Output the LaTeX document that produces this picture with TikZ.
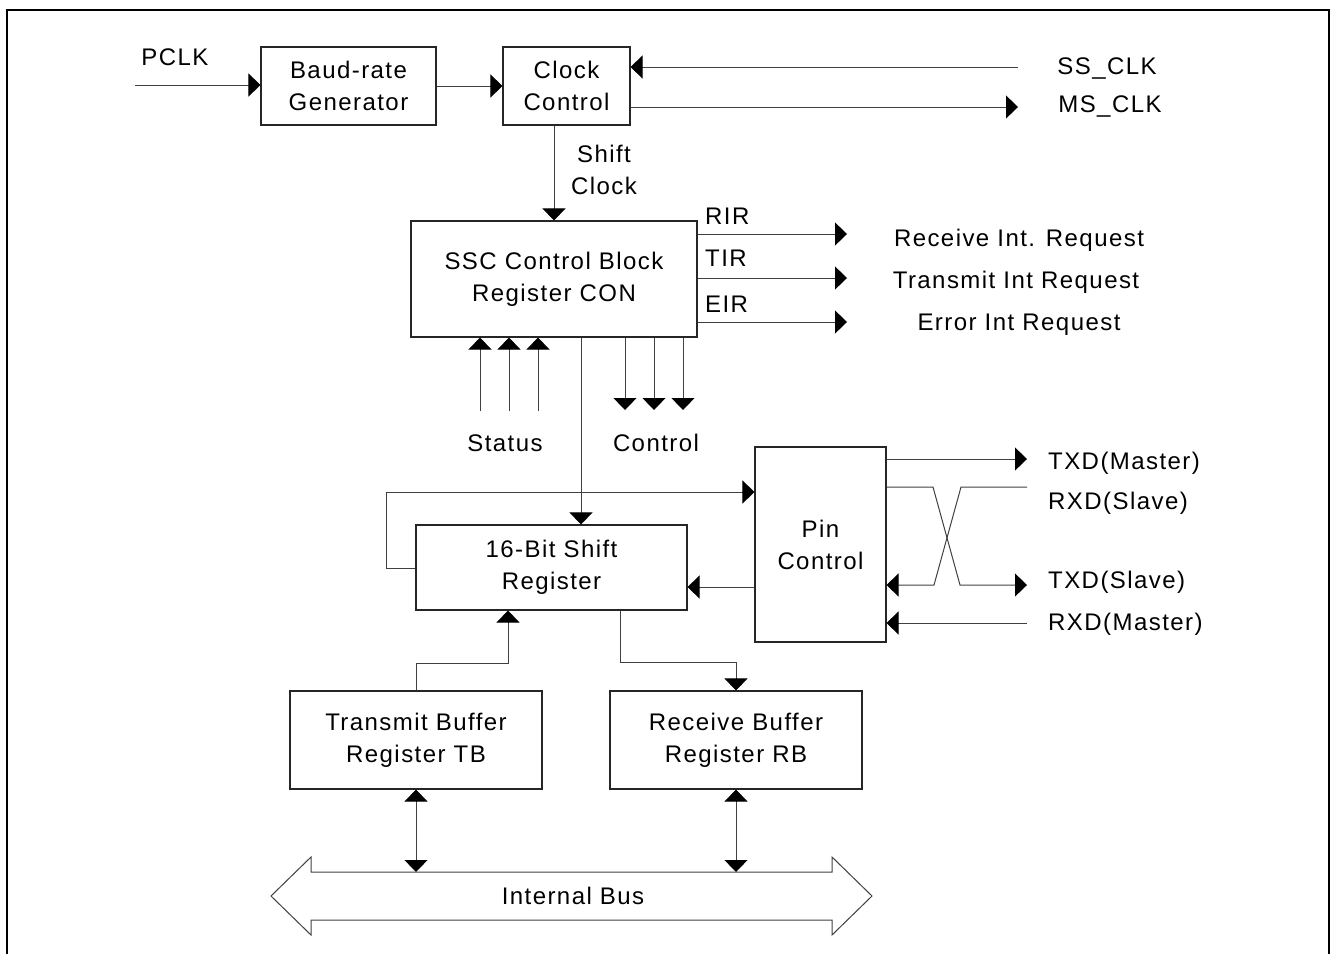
\documentclass[tikz,border=0pt]{standalone}
\usepackage{fontspec}
\setmainfont{Liberation Sans}[LetterSpace=6]
\usetikzlibrary{arrows.meta}
\begin{document}
\begin{tikzpicture}[x=1pt,y=-1pt,
  font=\fontsize{24}{32}\selectfont,
  box/.style={draw=black!85, line width=1.1pt, align=center, inner sep=0pt},
  lbl/.style={inner sep=0pt, text height=17pt, text depth=0pt},
  con/.style={line width=1pt, draw=black!75},
  tipA/.tip={Triangle[length=12pt 0 0,width=23pt 0 0,color=black,fill=black]},
  arr/.style={con, -tipA},
  arrb/.style={con, tipA-tipA}]
\useasboundingbox (0,0) rectangle (1331,954);
% frame
\draw[line width=1.5pt] (7,954) -- (7,10) -- (1329,10) -- (1329,954);
% boxes
\node[box, minimum width=175pt, minimum height=78pt] (baud) at (348.5,86) {Baud-rate\\Generator};
\node[box, minimum width=127pt, minimum height=78pt] (clk) at (566.5,86) {Clock\\Control};
\node[box, minimum width=286pt, minimum height=116pt] (ssc) at (554,279) {SSC Control Block\\Register CON};
\node[box, minimum width=271pt, minimum height=85pt] (shift) at (551.5,567.5) {16-Bit Shift\\Register};
\node[box, minimum width=131pt, minimum height=195pt] (pin) at (820.5,544.5) {Pin\\Control};
\node[box, minimum width=252pt, minimum height=98pt] (tb) at (416,740) {Transmit Buffer\\Register TB};
\node[box, minimum width=252pt, minimum height=98pt] (rb) at (736,740) {Receive Buffer\\Register RB};
% labels
\node[lbl] (pclk) at (175,57) {PCLK};
\node[lbl] (ssclk) at (1107,66) {SS\_CLK};
\node[lbl] (msclk) at (1110,104) {MS\_CLK};
\node[align=center, inner sep=0pt] (shiftclk) at (604,170) {Shift\\Clock};
\node[lbl, anchor=west] (rir) at (705,216) {RIR};
\node[lbl, anchor=west] (tir) at (705,258) {TIR};
\node[lbl, anchor=west] (eir) at (705,304) {EIR};
\node[lbl] (rxreq) at (1019,238) {Receive Int. Request};
\node[lbl] (txreq) at (1016,280) {Transmit Int Request};
\node[lbl] (erreq) at (1019,322) {Error Int Request};
\node[lbl] (status) at (505,443) {Status};
\node[lbl] (control) at (656,443) {Control};
\node[lbl, anchor=west] (txdm) at (1048,461) {TXD(Master)};
\node[lbl, anchor=west] (rxds) at (1048,501) {RXD(Slave)};
\node[lbl, anchor=west] (txds) at (1048,580) {TXD(Slave)};
\node[lbl, anchor=west] (rxdm) at (1048,622) {RXD(Master)};
\node[lbl] (bus) at (573,896) {Internal Bus};
% coordinates for free ends
\coordinate (pclkin) at (135,85);
\coordinate (ssend) at (1018,67);
\coordinate (msend) at (1018,107);
\coordinate (rirE) at (847,234);
\coordinate (tirE) at (847,278);
\coordinate (eirE) at (847,322);
\coordinate (st1) at (480,411);
\coordinate (st2) at (509,411);
\coordinate (st3) at (538,411);
\coordinate (ct1) at (625,410);
\coordinate (ct2) at (654,410);
\coordinate (ct3) at (683,410);
\coordinate (txdmE) at (1027,459);
\coordinate (rxdsE) at (1027,487);
\coordinate (txdsE) at (1027,585);
\coordinate (rxdmE) at (1027,623);
\coordinate (bustop) at (0,872);
% connectors
\draw[arr] (pclkin) -- (pclkin -| baud.west);
\draw[arr] (baud) -- (clk);
\draw[arr] (ssend) -- (ssend -| clk.east);
\draw[arr] (msend -| clk.east) -- (msend);
\draw[arr] (clk.south -| ssc.north) -- (ssc.north);
\draw[arr] (rirE -| ssc.east) -- (rirE);
\draw[arr] (tirE -| ssc.east) -- (tirE);
\draw[arr] (eirE -| ssc.east) -- (eirE);
\foreach \c in {st1,st2,st3} \draw[arr] (\c) -- (\c |- ssc.south);
\foreach \c in {ct1,ct2,ct3} \draw[arr] (\c |- ssc.south) -- (\c);
\draw[arr] (ssc.south -| 581,0) -- (shift.north -| 581,0);
\draw[arr] (shift.west |- 0,568) -- (386,568) -- (386,492) -- (pin.west |- 0,492);
\draw[arr] (pin.west |- 0,587) -- (shift.east |- 0,587);
\draw[arr] (txdmE -| pin.east) -- (txdmE);
\draw[arr] (rxdsE) -- (961,487) -- (934,585) -- (pin.east |- 0,585);
\draw[arr] (pin.east |- 0,487) -- (933,487) -- (960,585) -- (txdsE);
\draw[arr] (rxdmE) -- (rxdmE -| pin.east);
\draw[arr] (tb.north) -- (416,663) -- (508,663) -- (shift.south -| 508,0);
\draw[arr] (shift.south -| 620,0) -- (620,662) -- (736,662) -- (rb.north);
\draw[arrb] (tb.south) -- (tb.south |- bustop);
\draw[arrb] (rb.south) -- (rb.south |- bustop);
% internal bus outline
\draw[con] (271,896) -- (311,857) -- (311,872) -- (832,872) -- (832,857) -- (872,896)
  -- (832,935) -- (832,920) -- (311,920) -- (311,935) -- cycle;
\end{tikzpicture}
\end{document}
